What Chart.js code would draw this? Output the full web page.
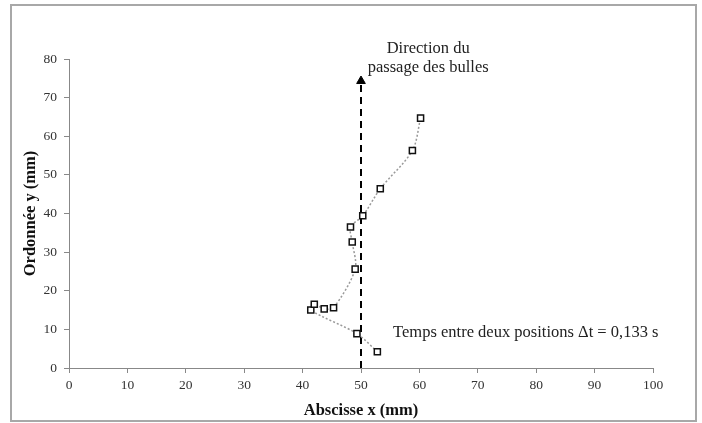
<!DOCTYPE html>
<html>
<head>
<meta charset="utf-8">
<script src="https://cdn.jsdelivr.net/npm/chart.js@4/dist/chart.umd.min.js"></script>
<style>
  html, body { margin: 0; padding: 0; background: #fff; }
  #wrap { position: relative; width: 702px; height: 423px; }
  #frame { position: absolute; left: 10px; top: 4px; width: 683px; height: 414px; border: 2px solid #a8a8a8; pointer-events: none; }
  canvas { position: absolute; left: 0; top: 0; }
</style>
</head>
<body>
<div id="wrap">
  <canvas id="chart" width="702" height="423"></canvas>
  <div id="frame"></div>
</div>
<script>
// bubble positions, one every 0.133 s
const posX = [52.8, 49.3, 41.4, 42.0, 43.7, 45.3, 49.0, 48.5, 48.2, 50.3, 53.3, 58.8, 60.2];
const posY = [4.2, 8.9, 15.0, 16.5, 15.3, 15.6, 25.6, 32.6, 36.5, 39.4, 46.4, 56.3, 64.7];

// direction arrow
const arrowX = [50, 50];
const arrowY = [0, 74.3];

const xTicks = [0, 10, 20, 30, 40, 50, 60, 70, 80, 90, 100];
const yTicks = [0, 10, 20, 30, 40, 50, 60, 70, 80];

const serif = '"Liberation Serif", "Times New Roman", serif';

const notes = {
  id: 'notes',
  afterDatasetsDraw(chart) {
    const ctx = chart.ctx;
    const xs = chart.scales.x, ys = chart.scales.y;
    ctx.save();
    ctx.fillStyle = '#222';
    ctx.font = '16.5px ' + serif;
    ctx.textAlign = 'center';
    ctx.textBaseline = 'middle';
    ctx.fillText('Direction du', xs.getPixelForValue(61.5), ys.getPixelForValue(82.6));
    ctx.fillText('passage des bulles', xs.getPixelForValue(61.5), ys.getPixelForValue(77.7));
    ctx.textAlign = 'left';
    ctx.fillText('Temps entre deux positions \u0394t = 0,133 s', xs.getPixelForValue(55.5), ys.getPixelForValue(9.1));
    ctx.restore();
  }
};

new Chart(document.getElementById('chart').getContext('2d'), {
  type: 'scatter',
  data: {
    datasets: [{
      data: posX.map((x, i) => ({ x: x, y: posY[i] })),
      showLine: true,
      borderColor: '#9a9a9a',
      borderWidth: 1.5,
      borderDash: [2, 2],
      tension: 0.3,
      pointStyle: 'rect',
      pointRadius: 4.3,
      pointBorderWidth: 1.5,
      pointBorderColor: '#111',
      pointBackgroundColor: '#fff',
      order: 1
    }, {
      data: arrowX.map((x, i) => ({ x: x, y: arrowY[i] })),
      showLine: true,
      borderColor: '#000',
      borderWidth: 2,
      borderDash: [7, 5],
      pointStyle: 'triangle',
      pointRadius: [0, 5],
      pointBorderWidth: 1,
      pointBorderColor: '#000',
      pointBackgroundColor: '#000',
      order: 2
    }]
  },
  options: {
    responsive: false,
    animation: false,
    layout: { padding: { left: 20.5, right: 49, top: 59, bottom: 0 } },
    plugins: { legend: { display: false }, tooltip: { enabled: false } },
    scales: {
      x: {
        type: 'linear',
        min: 0, max: 100,
        afterBuildTicks: axis => { axis.ticks = xTicks.map(v => ({ value: v })); },
        grid: { drawOnChartArea: false, color: '#888', tickLength: 5 },
        border: { color: '#888', width: 1 },
        ticks: { color: '#333', font: { family: serif, size: 13.5 }, padding: 4, maxRotation: 0 },
        title: { display: true, text: 'Abscisse x (mm)', color: '#111', font: { family: serif, size: 16.5, weight: 'bold' }, padding: { top: 4, bottom: 2 } }
      },
      y: {
        type: 'linear',
        min: 0, max: 80,
        afterBuildTicks: axis => { axis.ticks = yTicks.map(v => ({ value: v })); },
        afterFit: axis => { axis.width = 48.5; },
        grid: { drawOnChartArea: false, color: '#888', tickLength: 5 },
        border: { color: '#888', width: 1 },
        ticks: { color: '#333', font: { family: serif, size: 13.5 }, padding: 7 },
        title: { display: true, text: 'Ordonnée y (mm)', color: '#111', font: { family: serif, size: 16.5, weight: 'bold' }, padding: { top: 0, bottom: 0 } }
      }
    }
  },
  plugins: [notes]
});
</script>
</body>
</html>
